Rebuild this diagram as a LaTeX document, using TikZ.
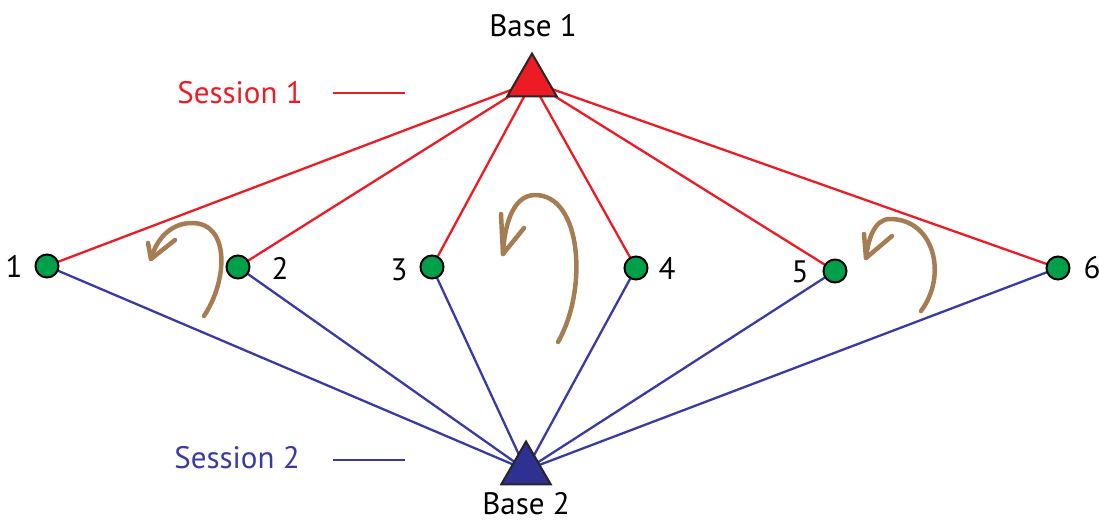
\documentclass[tikz,border=0pt]{standalone}
\usepackage{fontspec}
\setmainfont{PT Sans}
\usetikzlibrary{shapes.geometric,arrows.meta,backgrounds}
\definecolor{sred}{RGB}{237,28,36}
\definecolor{sblue}{RGB}{58,58,165}
\definecolor{tblue}{RGB}{46,49,146}
\definecolor{sgreen}{RGB}{0,160,75}
\definecolor{sbrown}{RGB}{166,124,82}
\tikzset{
  pt/.style={circle,draw=black,line width=2pt,fill=sgreen,minimum size=23pt,inner sep=0pt},
  base/.style={regular polygon,regular polygon sides=3,draw=black!85,line width=2pt,minimum size=57pt,inner sep=0pt},
  lbl/.style={font=\fontsize{31}{36}\selectfont,inner sep=0pt},
  redline/.style={draw=sred,line width=2.3pt},
  blueline/.style={draw=sblue,line width=2.3pt},
  turn/.style={draw=sbrown,line width=4.5pt,line cap=round,line join=round}
}
\begin{document}
\begin{tikzpicture}[x=1pt,y=-1pt]
\useasboundingbox (0,0) rectangle (1099,523);
% stations
\node[pt] (n1) at (47,266) {};
\node[pt] (n2) at (238,267) {};
\node[pt] (n3) at (432,267) {};
\node[pt] (n4) at (636,268) {};
\node[pt] (n5) at (835,271) {};
\node[pt] (n6) at (1058,268) {};
\node[lbl] (l1) at (14,266) {1};
\node[lbl] (l2) at (280,268) {2};
\node[lbl] (l3) at (399,270) {3};
\node[lbl] (l4) at (667,268) {4};
\node[lbl] (l5) at (800,272) {5};
\node[lbl] (l6) at (1092,268) {6};
% bases
\node[base,fill=sred] (b1) at (532,82) {};
\node[base,fill=tblue] (b2) at (526,470) {};
\node[lbl] (t1) at (533,26) {Base 1};
\node[lbl] (t2) at (526,504) {Base 2};
% sessions
\node[lbl,text=sred] (s1) at (240,93) {Session 1};
\node[lbl,text=sblue] (s2) at (237,458) {Session 2};
\coordinate (s1a) at (333,93);
\coordinate (s1b) at (405,93);
\coordinate (s2a) at (333,460);
\coordinate (s2b) at (405,460);
\draw[redline] (s1a) -- (s1b);
\draw[blueline] (s2a) -- (s2b);
\begin{pgfonlayer}{background}
\foreach \n in {n1,n2,n3,n4,n5,n6}{
  \draw[redline] (b1.center) -- (\n.center);
  \draw[blueline] (b2.center) -- (\n.center);
}
\end{pgfonlayer}
% rotation arrows
\coordinate (a1s) at (204,316);
\coordinate (a1m) at (192,223);
\coordinate (a1e) at (151,259);
\draw[turn] (a1s) .. controls (228,280) and (230,223) .. (a1m) .. controls (170,223) and (156,240) .. (a1e);
\draw[turn] (148,243) -- (a1e) -- (175,240);
\coordinate (a2s) at (558,342);
\coordinate (a2m) at (535,195);
\coordinate (a2e) at (503,254);
\draw[turn] (a2s) .. controls (588,290) and (582,195) .. (a2m) .. controls (512,195) and (504,228) .. (a2e);
\draw[turn] (501,214) -- (a2e) -- (524,228);
\coordinate (a3s) at (921,311);
\coordinate (a3m) at (890,219);
\coordinate (a3e) at (866,258);
\draw[turn] (a3s) .. controls (948,275) and (934,219) .. (a3m) .. controls (874,219) and (868,240) .. (a3e);
\draw[turn] (864,234) -- (a3e) -- (892,236);
\end{tikzpicture}
\end{document}
